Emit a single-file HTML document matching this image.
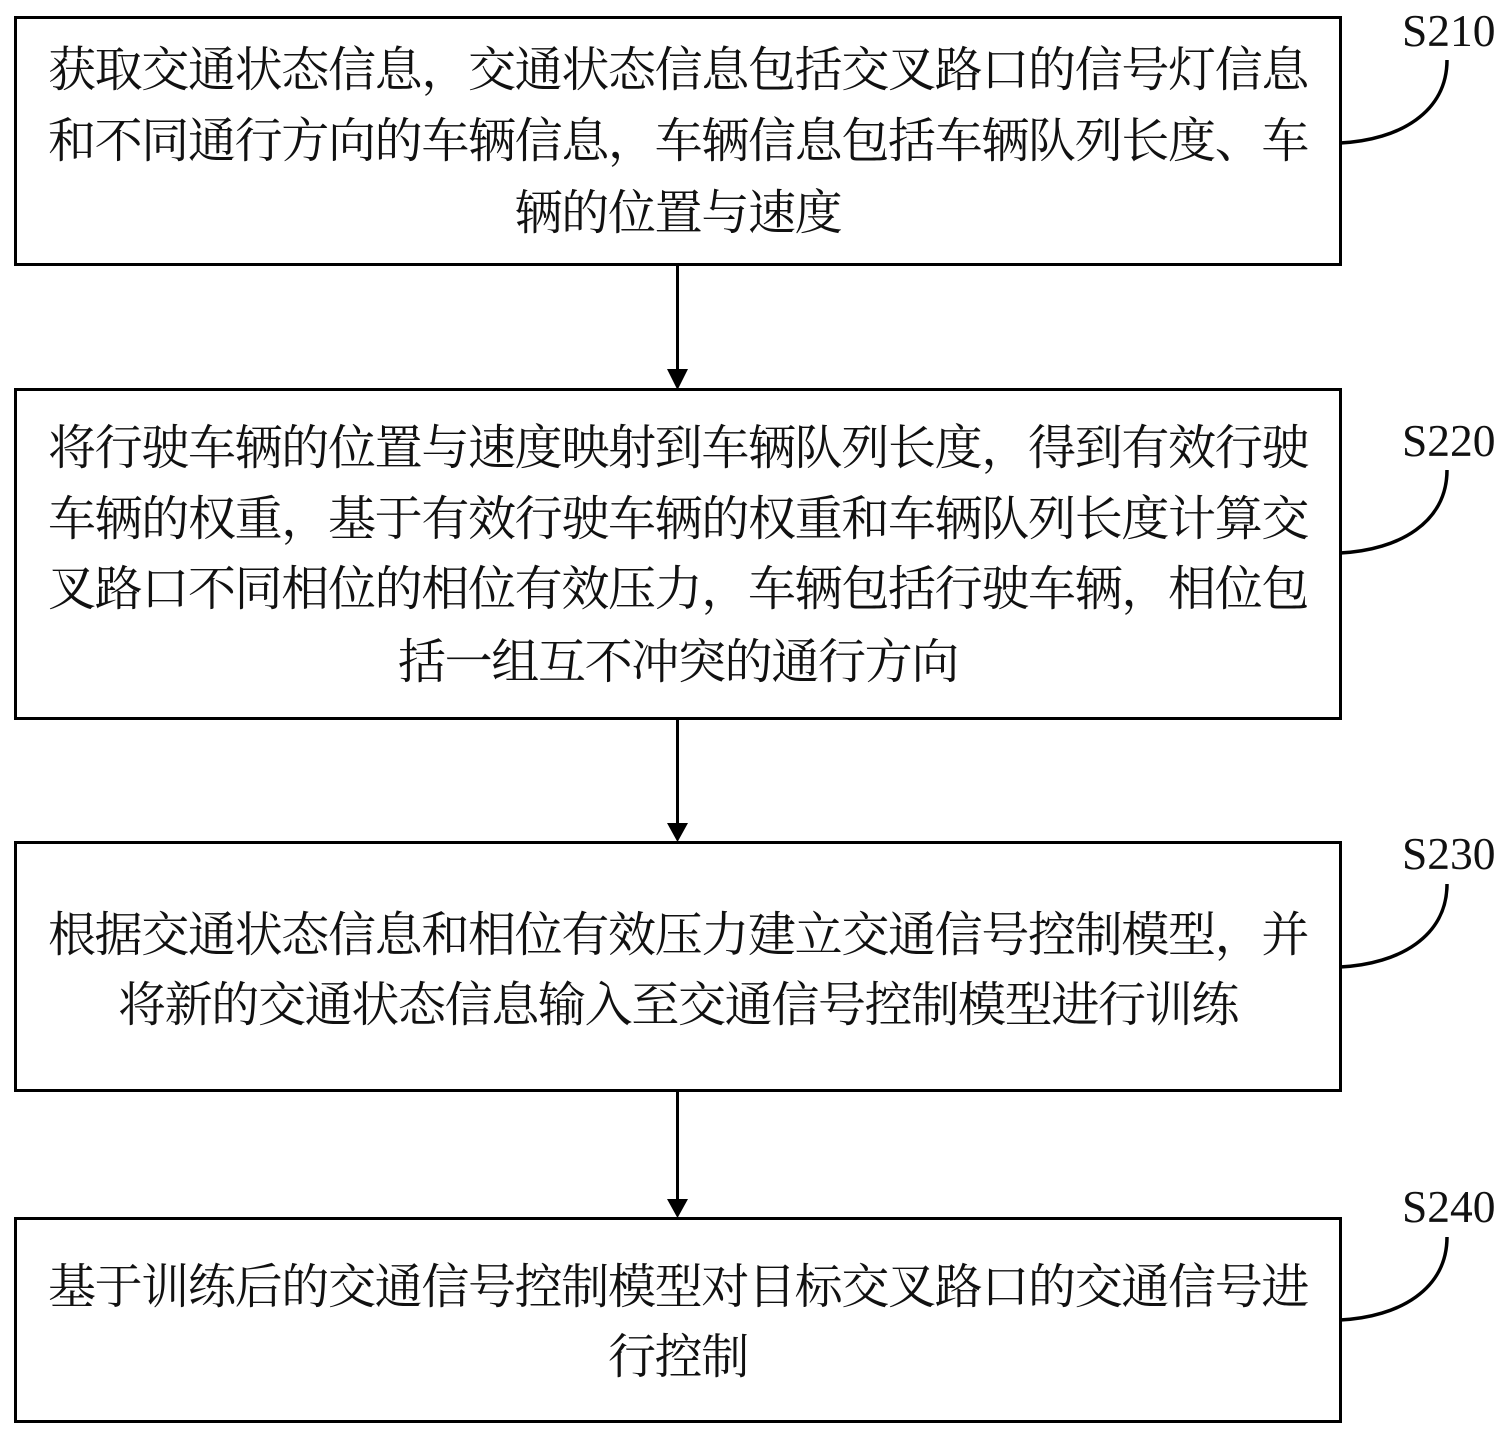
<!DOCTYPE html>
<html><head><meta charset="utf-8">
<style>
html,body{margin:0;padding:0;background:#fff;width:1507px;height:1435px;overflow:hidden}
.t{position:absolute;left:15px;width:1326px;text-align:center;font:48px/72px "Noto Serif CJK SC","Liberation Serif",serif;letter-spacing:-1.33px;color:#111;white-space:nowrap;height:72px}
.s{position:absolute;left:1402px;font:45.5px/50px "Liberation Serif",serif;color:#111;white-space:nowrap}
svg{position:absolute;left:0;top:0}
</style></head><body>
<svg width="1507" height="1435" fill="none" stroke="#000" stroke-width="3">
<rect x="15.5" y="17.5" width="1325" height="247"/>
<rect x="15.5" y="389.5" width="1325" height="329"/>
<rect x="15.5" y="842.5" width="1325" height="248"/>
<rect x="15.5" y="1218.5" width="1325" height="203"/>
<path d="M677.5 265V372M677.5 719V826M677.5 1091V1202"/>
<path d="M667 369H688L677.5 390ZM667 823H688L677.5 842ZM667 1199H688L677.5 1218Z" fill="#000" stroke="none"/>
<g stroke-width="3.5">
<path d="M1340 143C1400 140 1447 112 1447 60"/>
<path d="M1340 553C1400 550 1447 522 1447 470"/>
<path d="M1340 967C1400 964 1447 936 1447 884"/>
<path d="M1340 1320C1400 1317 1447 1289 1447 1237"/>
</g>
</svg>
<div class="s" style="top:6px">S210</div>
<div class="s" style="top:416px">S220</div>
<div class="s" style="top:829px">S230</div>
<div class="s" style="top:1182px">S240</div>
<div class="t" style="top:30px">获取交通状态信息，交通状态信息包括交叉路口的信号灯信息</div>
<div class="t" style="top:101px">和不同通行方向的车辆信息，车辆信息包括车辆队列长度、车</div>
<div class="t" style="top:173px">辆的位置与速度</div>
<div class="t" style="top:408px">将行驶车辆的位置与速度映射到车辆队列长度，得到有效行驶</div>
<div class="t" style="top:479px">车辆的权重，基于有效行驶车辆的权重和车辆队列长度计算交</div>
<div class="t" style="top:549px">叉路口不同相位的相位有效压力，车辆包括行驶车辆，相位包</div>
<div class="t" style="top:622px">括一组互不冲突的通行方向</div>
<div class="t" style="top:895px">根据交通状态信息和相位有效压力建立交通信号控制模型，并</div>
<div class="t" style="top:965px">将新的交通状态信息输入至交通信号控制模型进行训练</div>
<div class="t" style="top:1247px">基于训练后的交通信号控制模型对目标交叉路口的交通信号进</div>
<div class="t" style="top:1317px">行控制</div>
</body></html>
